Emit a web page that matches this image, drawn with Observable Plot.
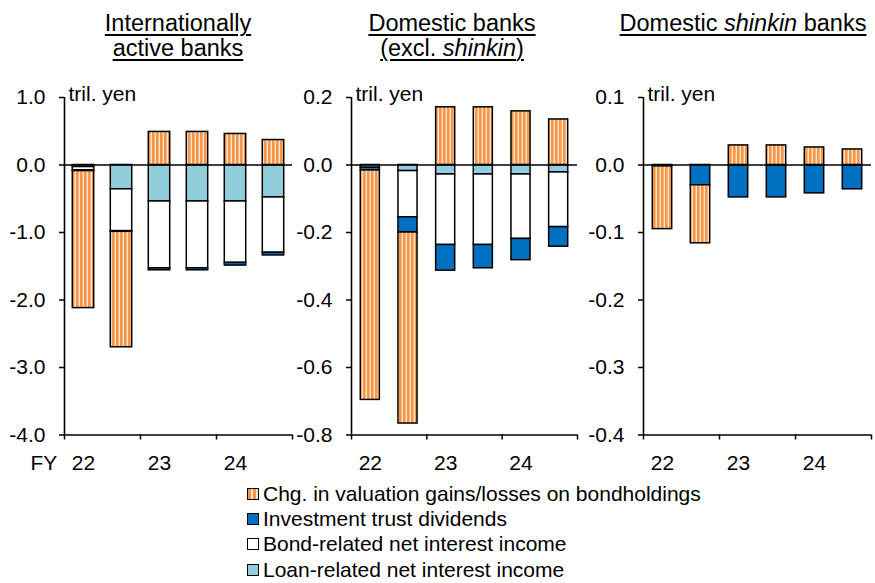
<!DOCTYPE html>
<html><head><meta charset="utf-8">
<script src="https://cdn.jsdelivr.net/npm/d3@7"></script>
<script src="https://cdn.jsdelivr.net/npm/@observablehq/plot@0.6"></script>
<style>
body{margin:0;background:#fff;font-family:"Liberation Sans",Arial,sans-serif;color:#000}
#page{position:relative;width:875px;height:583px;overflow:hidden;background:#fff}
.panel{position:absolute;top:0}
.hdr{position:absolute;top:11px;font-size:23.5px;line-height:25px;text-align:center;white-space:nowrap}
.hdr span{text-decoration:underline;text-decoration-thickness:2px;text-underline-offset:3px}
#legend{position:absolute;left:247px;top:481px;font-size:21px;line-height:25.2px;white-space:nowrap}
.li{position:relative;padding-left:16px}
.sw{position:absolute;left:0;top:7px;width:10px;height:10px;border:1px solid #000}
</style></head>
<body>
<svg width="0" height="0" style="position:absolute">
  <defs>
    <pattern id="hatch" patternUnits="userSpaceOnUse" width="4" height="4">
      <rect width="4" height="4" fill="#F79646"></rect>
      <rect x="2.6" width="1.4" height="4" fill="#FDE4CF"></rect>
    </pattern>
  </defs>
</svg>
<div id="page">
  <div id="p1" class="panel" style="left:0"></div>
  <div id="p2" class="panel" style="left:295px"></div>
  <div id="p3" class="panel" style="left:581px"></div>
  <div class="hdr" style="left:68px;width:220px"><span>Internationally</span><br><span>active banks</span></div>
  <div class="hdr" style="left:342px;width:220px"><span>Domestic banks</span><br><span>(excl. <i>shinkin</i>)</span></div>
  <div class="hdr" style="left:608px;width:270px"><span>Domestic <i>shinkin</i> banks</span></div>
  <div id="legend"></div>
</div>
<script>
// ---- data ----
const periodStart = [22, 22.5, 23, 23.5, 24, 24.5];   // fiscal-year halves
const yearTicks = [22, 23, 24, 25];
const yearLabels = [22, 23, 24];
const unitLabel = "tril. yen";
const fyLabel = "FY";

const seriesNames = [
  "Loan-related net interest income",
  "Bond-related net interest income",
  "Investment trust dividends",
  "Chg. in valuation gains/losses on bondholdings"
];
const legendOrder = [3, 2, 1, 0];
const seriesFills = ["#92CDDC", "#FFFFFF", "#0070C0", "url(#hatch)"];
const legendSwatch = [
  "background:#92CDDC",
  "background:#FFFFFF",
  "background:#0070C0",
  "background:repeating-linear-gradient(90deg,#F79646 0 3px,#FDE4CF 3px 5px)"
];

// Internationally active banks
const intlLoan = [-0.03, -0.36, -0.54, -0.54, -0.54, -0.48];
const intlBond = [-0.05, -0.62, -0.99, -0.99, -0.91, -0.82];
const intlInv  = [-0.01, -0.01, -0.03, -0.03, -0.04, -0.04];
const intlVal  = [-2.03, -1.71, 0.49, 0.49, 0.46, 0.37];
const intlTicks = [1, 0, -1, -2, -3, -4];

// Domestic banks (excl. shinkin)
const domLoan = [0, -0.018, -0.028, -0.028, -0.028, -0.022];
const domBond = [-0.008, -0.137, -0.209, -0.209, -0.191, -0.162];
const domInv  = [-0.008, -0.045, -0.076, -0.069, -0.063, -0.058];
const domVal  = [-0.68, -0.566, 0.171, 0.171, 0.159, 0.135];
const domTicks = [0.2, 0, -0.2, -0.4, -0.6, -0.8];

// Domestic shinkin banks
const shinLoan = [0, 0, 0, 0, 0, 0];
const shinBond = [0, 0, 0, 0, 0, 0];
const shinInv  = [-0.002, -0.030, -0.048, -0.048, -0.042, -0.036];
const shinVal  = [-0.093, -0.086, 0.029, 0.029, 0.026, 0.023];
const shinTicks = [0.1, 0, -0.1, -0.2, -0.3, -0.4];

function rowsOf(series) {
  const rows = [];
  periodStart.forEach((p, i) => {
    series.forEach((arr, k) => {
      if (arr[i] !== 0) rows.push({x1: p, x2: p + 0.5, v: arr[i], s: seriesNames[k]});
    });
  });
  return rows;
}

function panel(el, opts) {
  const {series, ticks, width, ml, mr, inset, fy} = opts;
  const rows = rowsOf(series);
  const marks = [
    Plot.rectY(rows, {x1: "x1", x2: "x2", y: "v", fill: "s", stroke: "black", strokeWidth: 1.5,
      insetLeft: inset, insetRight: inset}),
    Plot.ruleY([0], {stroke: "black", strokeWidth: 1.6}),
    Plot.ruleX([yearTicks[0]], {stroke: "black", strokeWidth: 1.6}),
    Plot.ruleY([d3.min(ticks)], {stroke: "black", strokeWidth: 1.6}),
    Plot.axisY({ticks, tickSize: 5, tickPadding: 14, tickFormat: d => d.toFixed(1), fontSize: 21, label: null, strokeWidth: 1.5}),
    Plot.axisX({ticks: yearTicks, tickSize: 5, tickFormat: () => "", label: null, strokeWidth: 1.5}),
    Plot.axisX({ticks: yearLabels.map(y => y + 0.25), tickSize: 0, tickPadding: 20, tickFormat: d => String(Math.floor(d)), fontSize: 21, label: null}),
    Plot.text([unitLabel], {frameAnchor: "top-left", dx: 4, dy: 3, lineAnchor: "bottom", textAnchor: "start", fontSize: 21})
  ];
  if (fy) marks.push(Plot.text([fyLabel], {frameAnchor: "bottom-left", dx: -34, dy: 20, lineAnchor: "top", textAnchor: "start", fontSize: 21}));
  const chart = Plot.plot({
    width, height: 480,
    marginLeft: ml, marginRight: mr, marginTop: 97, marginBottom: 45.5,
    style: {fontFamily: "Liberation Sans, Arial, sans-serif", fontSize: "21px", color: "black", background: "transparent", overflow: "visible"},
    x: {domain: [yearTicks[0], yearTicks[yearTicks.length - 1]]},
    y: {domain: [d3.min(ticks), d3.max(ticks)]},
    color: {domain: seriesNames, range: seriesFills},
    marks
  });
  document.getElementById(el).appendChild(chart);
}

panel("p1", {series: [intlLoan, intlBond, intlInv, intlVal], ticks: intlTicks, width: 295, ml: 64, mr: 3, inset: 8.3, fy: true});
panel("p2", {series: [domLoan, domBond, domInv, domVal], ticks: domTicks, width: 286, ml: 56, mr: 4, inset: 9.3, fy: false});
panel("p3", {series: [shinLoan, shinBond, shinInv, shinVal], ticks: shinTicks, width: 294, ml: 62, mr: 4, inset: 9.3, fy: false});

const lg = document.getElementById("legend");
legendOrder.forEach(k => {
  const d = document.createElement("div");
  d.className = "li";
  d.innerHTML = `<span class="sw" style="${legendSwatch[k]}"></span>${seriesNames[k]}`;
  lg.appendChild(d);
});
</script>
</body></html>
